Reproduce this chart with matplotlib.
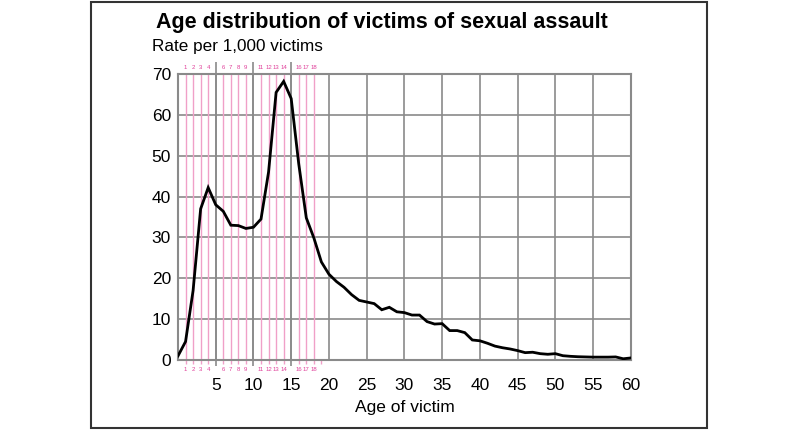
import numpy as np
import matplotlib
matplotlib.use("Agg")
import matplotlib.pyplot as plt
from matplotlib.patches import Rectangle

plt.rcParams['font.family'] = ['Liberation Sans', 'DejaVu Sans']

# rate per 1,000 victims by age (0..60)
ages = list(range(0, 61))
rates = [1.0, 4.5, 17.0, 37.0, 42.2, 38.0, 36.4, 33.0, 32.9, 32.2,
         32.5, 34.5, 46.0, 65.5, 68.2, 64.0, 48.0, 34.8, 29.9, 24.0,
         21.0, 19.2, 17.8, 16.0, 14.6, 14.2, 13.8, 12.3, 12.9, 11.8,
         11.6, 11.0, 11.0, 9.4, 8.8, 8.9, 7.2, 7.2, 6.7, 4.9,
         4.7, 4.1, 3.4, 3.0, 2.7, 2.3, 1.8, 1.9, 1.55, 1.4,
         1.55, 1.05, 0.9, 0.8, 0.75, 0.7, 0.7, 0.7, 0.75, 0.3,
         0.5]

# pink single-year markers for the young ages
pink_ages = [1, 2, 3, 4, 6, 7, 8, 9, 11, 12, 13, 14, 16, 17, 18]
gray_ext = [5, 10, 15]
x_ticks = [5, 10, 15, 20, 25, 30, 35, 40, 45, 50, 55, 60]
y_ticks = [0, 10, 20, 30, 40, 50, 60, 70]

title = "Age distribution of victims of sexual assault"
subtitle = "Rate per 1,000 victims"
xlabel = "Age of victim"

grid_c = "#8a8a8a"
pink_line = "#f0a0c8"
pink_text = "#e0409a"

fig = plt.figure(figsize=(8, 4.3), dpi=100)
ax = fig.add_axes([0.2225, 0.1628, 0.566, 0.665])

# pink lines inside and slightly below the plot
trans = ax.get_xaxis_transform()
ax.vlines(pink_ages, -0.015, 1, transform=trans, colors=pink_line,
          linewidth=1.0, clip_on=False, zorder=1)
ax.vlines([19], -0.015, 0, transform=trans, colors=pink_line,
          linewidth=1.0, clip_on=False, zorder=1)
for a in pink_ages:
    ax.text(a, 1.022, str(a), transform=trans, ha="center", va="center",
            fontsize=4.3, color=pink_text)
    ax.text(a, -0.032, str(a), transform=trans, ha="center", va="center",
            fontsize=4.3, color=pink_text)

# gray grid
ax.set_xlim(0, 60)
ax.set_ylim(0, 70)
ax.set_xticks(x_ticks)
ax.set_yticks(y_ticks)
ax.grid(True, color=grid_c, linewidth=1.2, zorder=2)
ax.vlines(gray_ext, 0, 1, transform=trans, colors=grid_c, linewidth=1.2, zorder=2)
ax.vlines(gray_ext, 1, 1.042, transform=trans, colors=grid_c,
          linewidth=1.2, clip_on=False)
ax.vlines(gray_ext, -0.022, 0, transform=trans, colors=grid_c,
          linewidth=1.2, clip_on=False)
ax.set_axisbelow(True)
for s in ax.spines.values():
    s.set_color(grid_c)
    s.set_linewidth(1.5)

ax.plot(ages, rates, color="black", linewidth=2.0, zorder=5,
        solid_joinstyle="miter")

ax.tick_params(axis="x", length=0, pad=13, labelsize=12.5)
ax.tick_params(axis="y", length=0, pad=5, labelsize=12.5)
ax.set_xlabel(xlabel, fontsize=12.5, labelpad=5)

fig.text(0.477, 0.947, title, ha="center", va="center",
         fontsize=15.5, fontweight="bold")
fig.text(0.19, 0.893, subtitle, ha="left", va="center", fontsize=12.3)

fig.add_artist(Rectangle((91 / 800, 2 / 430), (707 - 91) / 800, (428 - 2) / 430,
                         transform=fig.transFigure, fill=False,
                         edgecolor="#333333", linewidth=1.5))

fig.savefig("out.png", dpi=100)
